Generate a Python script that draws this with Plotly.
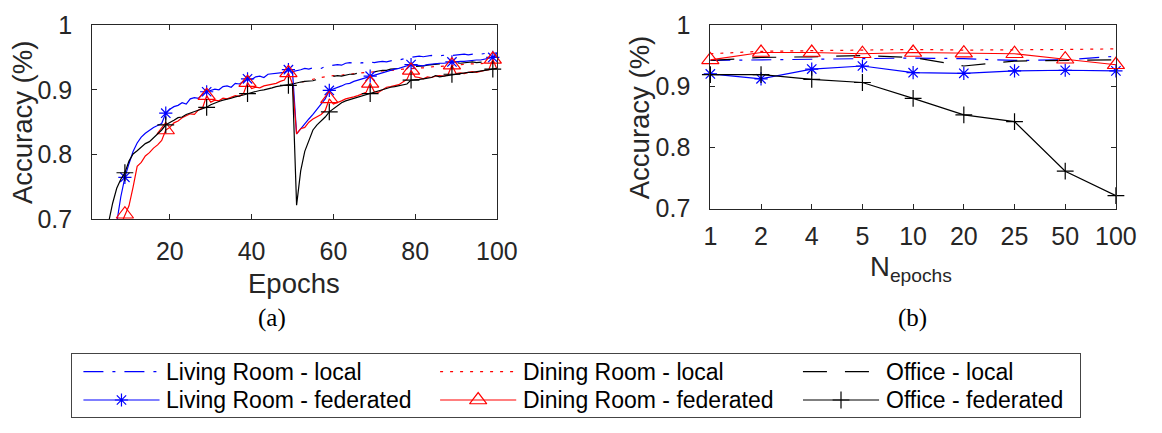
import plotly.graph_objects as go

# ---------------- data: panel (a) ----------------
epochs = list(range(1, 101))
epochs_local = list(range(50, 101))

lr_fed = [0.45, 0.52, 0.57, 0.61, 0.645, 0.672, 0.695, 0.735, 0.765, 0.786,
          0.805, 0.818, 0.827, 0.833, 0.838, 0.842, 0.845, 0.848, 0.864, 0.870,
          0.874, 0.876, 0.880, 0.878, 0.886, 0.888, 0.887, 0.893, 0.897, 0.899,
          0.901, 0.900, 0.905, 0.906, 0.904, 0.910, 0.909, 0.913, 0.917, 0.916,
          0.920, 0.921, 0.919, 0.924, 0.925, 0.926, 0.927, 0.927, 0.931, 0.928,
          0.832, 0.840, 0.848, 0.855, 0.862, 0.870, 0.878, 0.886, 0.899, 0.901,
          0.904, 0.906, 0.909, 0.910, 0.913, 0.915, 0.917, 0.918, 0.921, 0.922,
          0.925, 0.927, 0.929, 0.930, 0.932, 0.933, 0.935, 0.936, 0.939, 0.938,
          0.938, 0.937, 0.939, 0.940, 0.940, 0.941, 0.941, 0.942, 0.943, 0.943,
          0.944, 0.944, 0.945, 0.945, 0.946, 0.946, 0.947, 0.948, 0.950, 0.953]

dr_fed = [0.40, 0.46, 0.52, 0.57, 0.61, 0.645, 0.672, 0.692, 0.708, 0.721,
          0.750, 0.782, 0.788, 0.798, 0.803, 0.810, 0.815, 0.822, 0.838, 0.842,
          0.849, 0.852, 0.857, 0.860, 0.863, 0.862, 0.869, 0.872, 0.891, 0.881,
          0.884, 0.883, 0.887, 0.886, 0.889, 0.891, 0.890, 0.894, 0.911, 0.902,
          0.904, 0.903, 0.906, 0.907, 0.909, 0.910, 0.913, 0.915, 0.926, 0.909,
          0.832, 0.840, 0.842, 0.850, 0.855, 0.858, 0.862, 0.868, 0.886, 0.878,
          0.880, 0.883, 0.886, 0.887, 0.889, 0.891, 0.894, 0.896, 0.910, 0.897,
          0.896, 0.900, 0.904, 0.905, 0.906, 0.908, 0.912, 0.916, 0.930, 0.920,
          0.919, 0.917, 0.920, 0.919, 0.921, 0.922, 0.921, 0.923, 0.938, 0.925,
          0.926, 0.925, 0.927, 0.928, 0.927, 0.929, 0.930, 0.931, 0.947, 0.932]

of_fed = [0.52, 0.58, 0.63, 0.67, 0.695, 0.725, 0.748, 0.762, 0.772, 0.790,
          0.801, 0.806, 0.812, 0.817, 0.820, 0.826, 0.832, 0.838, 0.846, 0.849,
          0.853, 0.857, 0.858, 0.862, 0.864, 0.866, 0.868, 0.871, 0.873, 0.877,
          0.880, 0.882, 0.884, 0.885, 0.887, 0.889, 0.890, 0.892, 0.894, 0.896,
          0.897, 0.899, 0.900, 0.901, 0.903, 0.905, 0.906, 0.907, 0.907, 0.909,
          0.722, 0.775, 0.805, 0.823, 0.838, 0.846, 0.852, 0.858, 0.866, 0.871,
          0.876, 0.880, 0.883, 0.885, 0.887, 0.889, 0.891, 0.893, 0.894, 0.897,
          0.899, 0.901, 0.903, 0.904, 0.905, 0.906, 0.907, 0.909, 0.915, 0.915,
          0.916, 0.917, 0.918, 0.919, 0.922, 0.920, 0.921, 0.922, 0.924, 0.925,
          0.925, 0.926, 0.927, 0.927, 0.928, 0.929, 0.930, 0.931, 0.932, 0.933]

lr_local = [0.928, 0.929, 0.931, 0.933, 0.932, 0.934, 0.934, 0.933, 0.936, 0.937,
            0.938, 0.939, 0.938, 0.941, 0.942, 0.941, 0.940, 0.942, 0.941, 0.943,
            0.942, 0.943, 0.944, 0.943, 0.945, 0.946, 0.946, 0.948, 0.949, 0.950,
            0.951, 0.952, 0.951, 0.952, 0.953, 0.952, 0.953, 0.953, 0.954, 0.953,
            0.954, 0.954, 0.955, 0.954, 0.955, 0.956, 0.955, 0.956, 0.957, 0.956,
            0.957]

dr_local = [0.909, 0.911, 0.912, 0.913, 0.915, 0.917, 0.918, 0.919, 0.920, 0.921,
            0.922, 0.921, 0.923, 0.924, 0.924, 0.925, 0.926, 0.926, 0.927, 0.927,
            0.928, 0.928, 0.929, 0.929, 0.930, 0.931, 0.931, 0.932, 0.932, 0.933,
            0.933, 0.934, 0.934, 0.935, 0.935, 0.936, 0.936, 0.937, 0.937, 0.938,
            0.938, 0.939, 0.939, 0.940, 0.940, 0.940, 0.941, 0.941, 0.941, 0.942,
            0.942]

of_local = [0.909, 0.911, 0.912, 0.913, 0.913, 0.914, 0.916, 0.915, 0.918, 0.919,
            0.920, 0.922, 0.921, 0.923, 0.924, 0.924, 0.926, 0.926, 0.927, 0.926,
            0.928, 0.929, 0.930, 0.930, 0.932, 0.932, 0.933, 0.934, 0.934, 0.935,
            0.936, 0.936, 0.937, 0.938, 0.939, 0.939, 0.940, 0.940, 0.941, 0.941,
            0.942, 0.941, 0.942, 0.942, 0.943, 0.942, 0.943, 0.943, 0.944, 0.943,
            0.944]

# ---------------- data: panel (b) ----------------
n_epochs = ['1', '2', '4', '5', '10', '20', '25', '50', '100']
lr_local_b = [0.942, 0.943, 0.944, 0.946, 0.946, 0.945, 0.942, 0.943, 0.949]
dr_local_b = [0.953, 0.957, 0.958, 0.959, 0.960, 0.959, 0.959, 0.960, 0.961]
of_local_b = [0.942, 0.947, 0.948, 0.950, 0.947, 0.933, 0.941, 0.942, 0.943]
lr_fed_b = [0.920, 0.912, 0.928, 0.933, 0.922, 0.921, 0.925, 0.926, 0.925]
dr_fed_b = [0.943, 0.955, 0.955, 0.953, 0.955, 0.954, 0.953, 0.944, 0.935]
of_fed_b = [0.919, 0.919, 0.911, 0.906, 0.880, 0.853, 0.842, 0.761, 0.721]

y_ticks = [0.7, 0.8, 0.9, 1.0]
y_ticktext = ['0.7', '0.8', '0.9', '1']
x_ticks_a = [20, 40, 60, 80, 100]

legend_names = ['Living Room - local', 'Dining Room - local', 'Office - local',
                'Living Room - federated', 'Dining Room - federated', 'Office - federated']

# ---------------- styles ----------------
W, H = 1162, 433
BLUE, RED, BLACK = '#0000ff', '#ff0000', '#000000'
AX = '#262626'
FONT = 'Liberation Sans, Arial, Helvetica, sans-serif'
LW = 1.2
DASH_LR = '20px,9px,3px,9px'
DASH_DR = '3px,7px'
DASH_OF = '24px,18px'
styles = [
    dict(color=BLUE, dash=DASH_LR, symbol=None),
    dict(color=RED, dash=DASH_DR, symbol=None),
    dict(color=BLACK, dash=DASH_OF, symbol=None),
    dict(color=BLUE, dash='solid', symbol='asterisk-open', size=11),
    dict(color=RED, dash='solid', symbol='triangle-up-open', size=15),
    dict(color=BLACK, dash='solid', symbol='cross-thin-open', size=12),
]


def fx(px):
    return px / W


def fy(py):
    return 1 - py / H


fig = go.Figure()


def add_line(x, y, st, xa, ya, name, mark_idx=None):
    fig.add_trace(go.Scatter(x=x, y=y, mode='lines', name=name, showlegend=False,
                             line=dict(color=st['color'], width=LW, dash=st['dash']),
                             xaxis=xa, yaxis=ya, hoverinfo='skip'))
    if st['symbol'] is not None:
        if mark_idx is None:
            mx, my = x, y
        else:
            mx = [x[i] for i in mark_idx]
            my = [y[i] for i in mark_idx]
        fig.add_trace(go.Scatter(x=mx, y=my, mode='markers', name=name, showlegend=False,
                                 marker=dict(symbol=st['symbol'], size=st['size'],
                                             color=st['color'],
                                             line=dict(color=st['color'], width=1.2)),
                                 cliponaxis=False, xaxis=xa, yaxis=ya, hoverinfo='skip'))


# panel (a)
marks = list(range(8, 100, 10))
add_line(epochs_local, lr_local, styles[0], 'x', 'y', legend_names[0])
add_line(epochs_local, dr_local, styles[1], 'x', 'y', legend_names[1])
add_line(epochs_local, of_local, styles[2], 'x', 'y', legend_names[2])
add_line(epochs, lr_fed, styles[3], 'x', 'y', legend_names[3], marks)
add_line(epochs, dr_fed, styles[4], 'x', 'y', legend_names[4], marks)
add_line(epochs, of_fed, styles[5], 'x', 'y', legend_names[5], marks)

# panel (b)
add_line(n_epochs, lr_local_b, styles[0], 'x2', 'y2', legend_names[0])
add_line(n_epochs, dr_local_b, styles[1], 'x2', 'y2', legend_names[1])
add_line(n_epochs, of_local_b, styles[2], 'x2', 'y2', legend_names[2])
add_line(n_epochs, lr_fed_b, styles[3], 'x2', 'y2', legend_names[3])
add_line(n_epochs, dr_fed_b, styles[4], 'x2', 'y2', legend_names[4])
add_line(n_epochs, of_fed_b, styles[5], 'x2', 'y2', legend_names[5])

# legend panel (pixel-coordinate axes)
LEG_L, LEG_R, LEG_T, LEG_B = 66.7, 1099, 363.3, 431
col_x = [78.3, 443.8, 815.6]
row_y = [382.3, 412.7]
seg_len = 78
for i, name in enumerate(legend_names):
    st = styles[i]
    x0 = col_x[i % 3]
    yy = row_y[i // 3]
    fig.add_trace(go.Scatter(x=[x0, x0 + seg_len], y=[yy, yy], mode='lines', showlegend=False,
                             line=dict(color=st['color'], width=LW, dash=st['dash']),
                             xaxis='x3', yaxis='y3', hoverinfo='skip'))
    if st['symbol'] is not None:
        fig.add_trace(go.Scatter(x=[x0 + seg_len / 2], y=[yy], mode='markers', showlegend=False,
                                 marker=dict(symbol=st['symbol'], size=st['size'], color=st['color'],
                                             line=dict(color=st['color'], width=1.2)),
                                 cliponaxis=False, xaxis='x3', yaxis='y3', hoverinfo='skip'))
    fig.add_annotation(x=x0 + seg_len + 5, y=yy, xref='x3', yref='y3', text=name,
                       showarrow=False, xanchor='left', yanchor='middle',
                       font=dict(family=FONT, size=23, color='#000000'))

axis_common = dict(showline=True, mirror='ticks', linecolor=AX, linewidth=1,
                   ticks='inside', ticklen=5, tickcolor=AX, showgrid=False, zeroline=False,
                   ticklabeloverflow='allow',
                   tickfont=dict(family=FONT, size=25, color=AX))

fig.update_layout(
    width=W, height=H, autosize=False,
    margin=dict(l=0, r=0, t=0, b=0),
    paper_bgcolor='white', plot_bgcolor='white',
    showlegend=False,
    xaxis=dict(domain=[fx(87.3), fx(502)], range=[1, 100], tickvals=x_ticks_a,
               anchor='y', ticklabelstandoff=10, **axis_common),
    yaxis=dict(domain=[fy(219.7), fy(11.7)], range=[0.6999, 1.0001], tickvals=y_ticks,
               ticktext=y_ticktext, anchor='x', ticklabelstandoff=14, **axis_common),
    xaxis2=dict(domain=[fx(720.7), fx(1136.3)], type='category', range=[0, 8],
                categoryorder='array', categoryarray=n_epochs,
                anchor='y2', ticklabelstandoff=5, **axis_common),
    yaxis2=dict(domain=[fy(208), fy(11.7)], range=[0.6999, 1.0001], tickvals=y_ticks,
                ticktext=y_ticktext, anchor='x2', ticklabelstandoff=14, **axis_common),
    xaxis3=dict(domain=[fx(LEG_L), fx(LEG_R)], range=[LEG_L, LEG_R], showline=True,
                mirror=True, linecolor='#444444', linewidth=1, showticklabels=False,
                ticks='', showgrid=False, zeroline=False, anchor='y3', fixedrange=True),
    yaxis3=dict(domain=[fy(LEG_B), fy(LEG_T)], range=[LEG_B, LEG_T], showline=True,
                mirror=True, linecolor='#444444', linewidth=1, showticklabels=False,
                ticks='', showgrid=False, zeroline=False, anchor='x3', fixedrange=True),
)

label_font = dict(family=FONT, size=27.5, color=AX)
cap_font = dict(family='Liberation Serif, Times New Roman, serif', size=25, color='#000000')
annots = [
    dict(x=fx(16), y=fy(116), text='Accuracy (%)', textangle=-90, font=label_font),
    dict(x=fx(649), y=fy(110), text='Accuracy (%)', textangle=-90, font=label_font),
    dict(x=fx(294), y=fy(288), text='Epochs', font=label_font),
    dict(x=fx(926), y=fy(272), text='N<sub>epochs</sub>', font=label_font),
    dict(x=fx(272), y=fy(325), text='(a)', font=cap_font),
    dict(x=fx(928), y=fy(325), text='(b)', font=cap_font),
]
for a in annots:
    fig.add_annotation(xref='paper', yref='paper', showarrow=False,
                       xanchor='center', yanchor='middle', **a)

fig.write_html('out.html')
